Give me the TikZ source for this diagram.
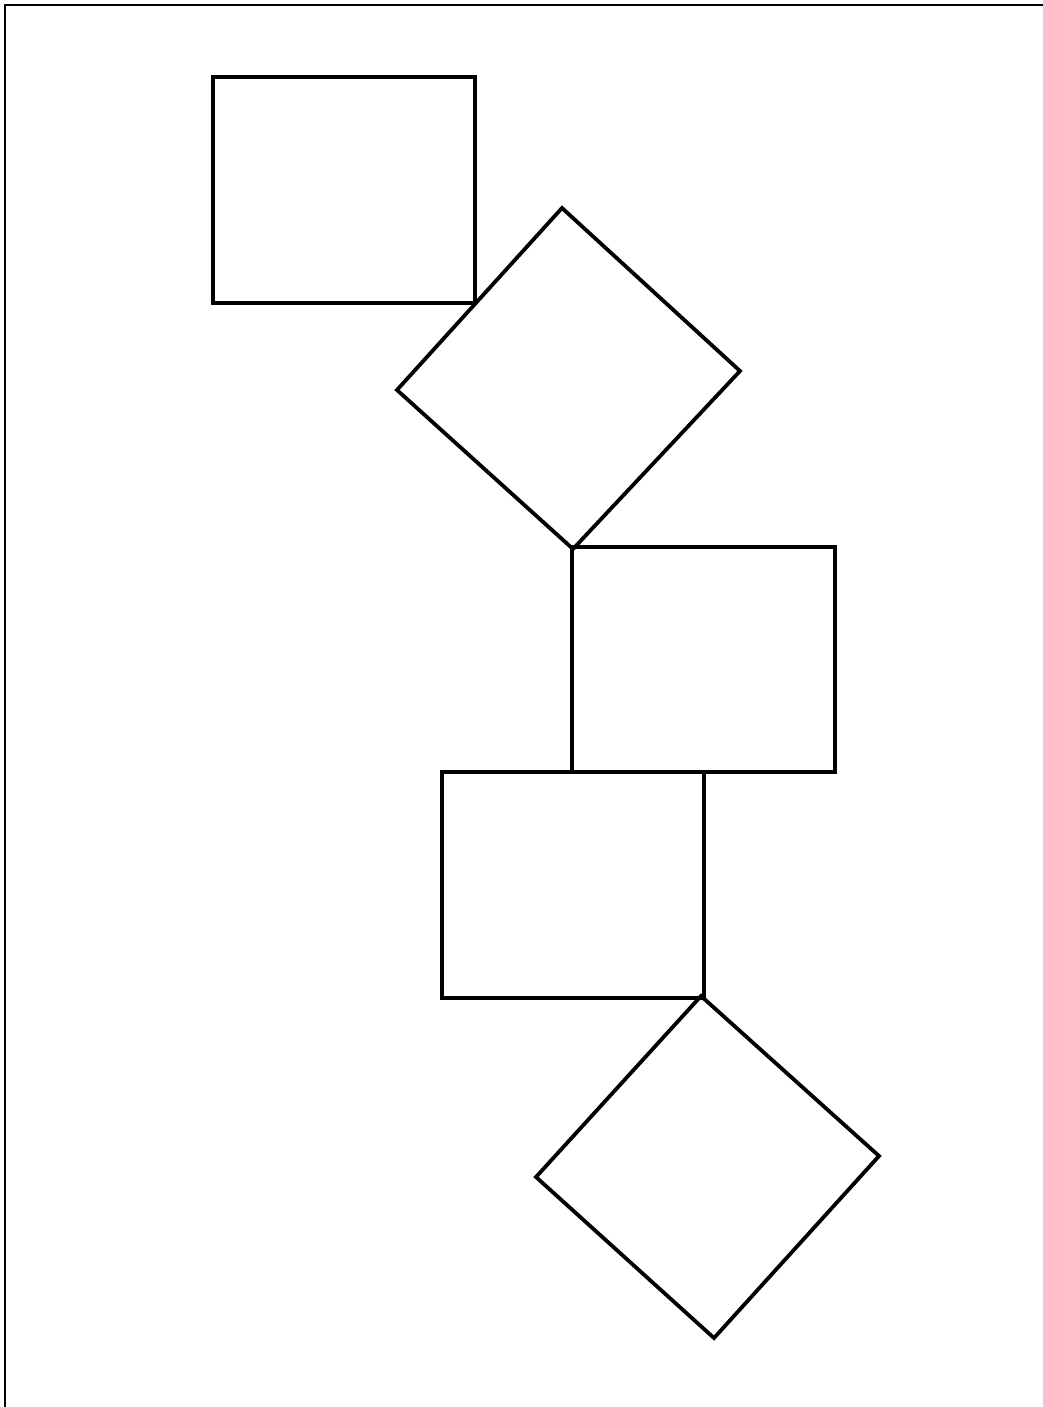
\documentclass[tikz,border=0pt]{standalone}
\begin{document}
\begin{tikzpicture}[x=1pt,y=-1pt,
  shapeline/.style={draw=black,line width=3.8pt,line join=miter},
  frameline/.style={draw=black,line width=2.2pt}]
\useasboundingbox (0,0) rectangle (1043,1407);
\draw[frameline] (5,1420) -- (5,5) -- (1060,5);
\draw[shapeline] (213,77) rectangle (475,303);
\draw[shapeline] (562,208) -- (740,371) -- (573,549) -- (397,390) -- cycle;
\draw[shapeline] (572,547) rectangle (835,772);
\draw[shapeline] (442,772) rectangle (704,998);
\draw[shapeline] (701,996) -- (879,1156) -- (714,1338) -- (536,1177) -- cycle;
\end{tikzpicture}
\end{document}
